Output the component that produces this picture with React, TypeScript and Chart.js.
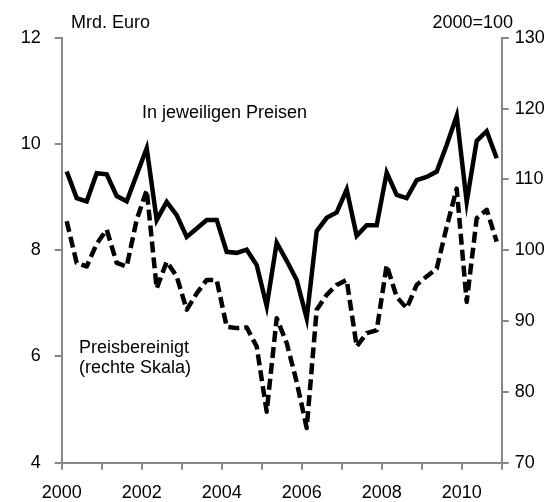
import { useEffect, useRef } from "react";
import { Chart, registerables } from "chart.js";

Chart.register(...registerables);

const FONT = "'Liberation Sans', Arial, sans-serif";

const startYear = 2000;
const quarterCount = 44;
const quarters: string[] = [];
for (let i = 0; i < quarterCount; i++) {
  quarters.push(`${startYear + Math.floor(i / 4)} Q${(i % 4) + 1}`);
}

// Mrd. Euro, in jeweiligen Preisen (linke Skala)
const nominal = [
  9.48, 8.98, 8.92, 9.45, 9.43, 9.02, 8.92, 9.42,
  9.92, 8.57, 8.91, 8.66, 8.25, 8.41, 8.57, 8.57,
  7.97, 7.95, 8.01, 7.72, 6.95, 8.14, 7.8, 7.44,
  6.72, 8.36, 8.61, 8.71, 9.14, 8.27, 8.47, 8.47,
  9.46, 9.04, 8.98, 9.32, 9.38, 9.48, 9.98, 10.53,
  8.91, 10.06, 10.24, 9.73,
];

// Preisbereinigt, 2000=100 (rechte Skala)
const real = [
  104.1, 98.2, 97.7, 100.9, 102.9, 98.2, 97.7, 104.3,
  108.5, 94.6, 98.4, 96.3, 91.6, 93.9, 95.8, 95.8,
  89.2, 89.0, 89.1, 86.4, 77.2, 90.4, 86.9, 81.4,
  74.9, 91.6, 93.7, 95.1, 95.8, 86.4, 88.3, 88.7,
  97.9, 93.4, 91.8, 95.1, 96.3, 97.4, 103.3, 108.7,
  92.7, 104.5, 105.7, 101.2,
];

const leftTicks = { min: 4, max: 12, step: 2 };
const rightTicks = { min: 70, max: 130, step: 10 };
const yearTicks = { min: 2000, max: 2011, step: 1, labelEvery: 2, lastLabel: 2010 };

const leftUnit = "Mrd. Euro";
const rightUnit = "2000=100";
const nominalLabel = "In jeweiligen Preisen";
const realLabel = ["Preisbereinigt", "(rechte Skala)"];

const AXIS = "#878787";

// quarter midpoint on the year axis
const xOf = (i: number) => startYear + Math.floor(i / 4) + ((i % 4) + 0.5) / 4;

const textPlugin = {
  id: "texts",
  afterDraw(chart: any) {
    const ctx = chart.ctx;
    ctx.save();
    ctx.font = `18px ${FONT}`;
    ctx.fillStyle = "#000";
    ctx.textBaseline = "alphabetic";
    ctx.textAlign = "left";
    ctx.fillText(leftUnit, 71, 28);
    ctx.textAlign = "right";
    ctx.fillText(rightUnit, 513, 28);
    ctx.textAlign = "left";
    ctx.fillText(nominalLabel, 142, 118);
    ctx.fillText(realLabel[0], 79, 353);
    ctx.fillText(realLabel[1], 79, 373);
    ctx.restore();
  },
};

export default function App() {
  const ref = useRef<HTMLCanvasElement | null>(null);

  useEffect(() => {
    if (!ref.current) return;
    Chart.defaults.font.family = FONT;
    Chart.defaults.font.size = 18;
    Chart.defaults.color = "#000";

    const grid = {
      drawOnChartArea: false,
      drawTicks: true,
      tickLength: 7,
      color: AXIS,
      lineWidth: 2,
    };
    const border = { display: true, color: AXIS, width: 2 };

    const chart = new Chart(ref.current, {
      type: "line",
      data: {
        labels: quarters,
        datasets: [
          {
            label: nominalLabel,
            data: nominal.map((v, i) => ({ x: xOf(i), y: v })),
            yAxisID: "y",
            borderColor: "#000",
            borderWidth: 4.5,
            pointRadius: 0,
            tension: 0,
            borderJoinStyle: "miter",
          },
          {
            label: realLabel.join(" "),
            data: real.map((v, i) => ({ x: xOf(i), y: v })),
            yAxisID: "y2",
            borderColor: "#000",
            borderWidth: 4.5,
            borderDash: [11, 5],
            pointRadius: 0,
            tension: 0,
            borderJoinStyle: "round",
          },
        ],
      },
      options: {
        responsive: false,
        animation: false,
        layout: { padding: { top: 37.7, left: 0, right: 0, bottom: 0 } },
        plugins: { legend: { display: false }, tooltip: { enabled: false } },
        scales: {
          x: {
            type: "linear",
            min: yearTicks.min,
            max: yearTicks.max,
            ticks: {
              stepSize: yearTicks.step,
              autoSkip: false,
              maxRotation: 0,
              padding: 13,
              callback: (v: any) =>
                v % yearTicks.labelEvery === 0 && v <= yearTicks.lastLabel ? String(v) : "",
            },
            grid,
            border,
            afterFit: (s: any) => {
              s.height = 39.3;
            },
          },
          y: {
            position: "left",
            min: leftTicks.min,
            max: leftTicks.max,
            ticks: { stepSize: leftTicks.step, padding: 14 },
            grid,
            border,
            afterFit: (s: any) => {
              s.width = 61.7;
            },
          },
          y2: {
            position: "right",
            min: rightTicks.min,
            max: rightTicks.max,
            ticks: { stepSize: rightTicks.step, padding: 6 },
            grid,
            border,
            afterFit: (s: any) => {
              s.width = 56.3;
            },
          },
        },
      },
      plugins: [textPlugin],
    } as any);

    return () => chart.destroy();
  }, []);

  return (
    <div
      style={{
        position: "fixed",
        left: 0,
        top: 0,
        width: 558,
        height: 502,
        background: "#fff",
      }}
    >
      <canvas ref={ref} width={558} height={502} style={{ width: 558, height: 502 }} />
    </div>
  );
}
